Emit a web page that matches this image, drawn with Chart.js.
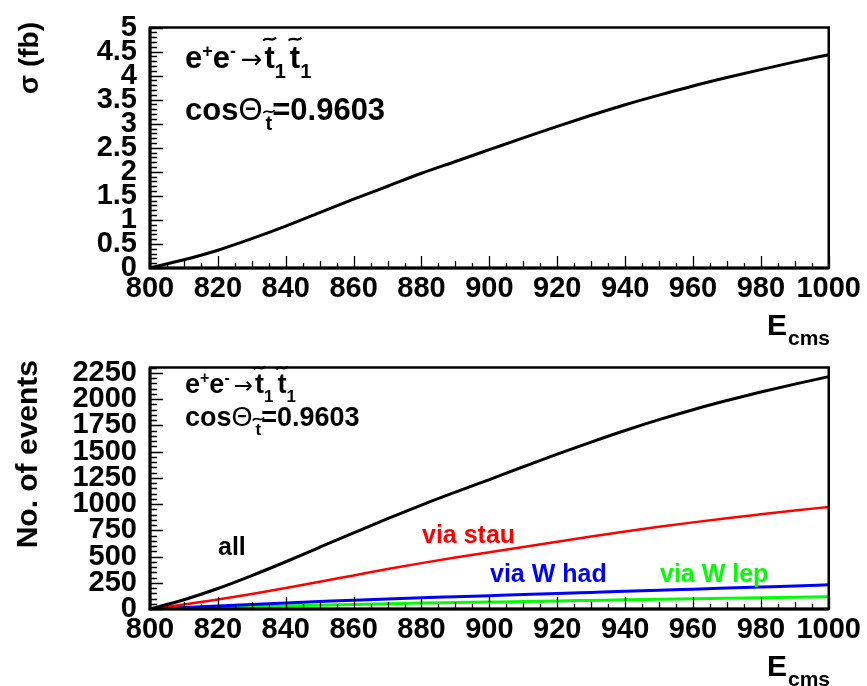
<!DOCTYPE html>
<html>
<head>
<meta charset="utf-8">
<script src="https://cdn.jsdelivr.net/npm/chart.js@4.4.1/dist/chart.umd.min.js"></script>
<style>
  body { margin: 0; background: #fff; }
  #wrap { position: relative; width: 867px; height: 686px; }
  canvas { position: absolute; left: 0; }
</style>
</head>
<body>
<div id="wrap">
  <canvas id="xsec" width="867" height="350" style="top:0"></canvas>
  <canvas id="nevt" width="867" height="346" style="top:340px"></canvas>
</div>
<script>
// centre-of-mass energy (GeV)
var energy = [800, 810, 820, 830, 840, 850, 860, 870, 880, 890, 900,
              910, 920, 930, 940, 950, 960, 970, 980, 990, 1000];
// cross section (fb)
var sigmaFb = [0, 0.17, 0.37, 0.61, 0.87, 1.15, 1.43, 1.70, 1.97, 2.215, 2.46,
               2.705, 2.945, 3.175, 3.395, 3.595, 3.785, 3.96, 4.125, 4.285, 4.435];
// number of events
var evAll  = [0, 88, 195, 318, 450, 588, 725, 860, 990, 1113, 1233,
              1355, 1475, 1590, 1700, 1803, 1898, 1985, 2066, 2142, 2213];
var evStau = [0, 42, 90, 142, 199, 260, 320, 380, 437, 490, 540,
              590, 640, 690, 738, 783, 825, 865, 902, 938, 972];
var evWhad = [0, 14, 29, 44, 58, 71, 84, 96, 107, 117, 127,
              137, 148, 158, 168, 179, 189, 199, 209, 219, 230];
var evWlep = [0, 7, 15, 22, 29, 36, 43, 50, 56, 61, 66,
              71, 77, 82, 87, 92, 97, 102, 107, 112, 117];

var xTicks = [800, 820, 840, 860, 880, 900, 920, 940, 960, 980, 1000];
var sigmaTicks = [0, 0.5, 1, 1.5, 2, 2.5, 3, 3.5, 4, 4.5, 5];
var evTicks = [0, 250, 500, 750, 1000, 1250, 1500, 1750, 2000, 2250];

var FONT = '"Liberation Sans", Arial, Helvetica, sans-serif';

function pts(ys) {
  return energy.map(function (e, i) { return { x: e, y: ys[i] }; });
}

function drawRich(ctx, x, y, parts, color) {
  ctx.save();
  ctx.fillStyle = color;
  ctx.strokeStyle = color;
  ctx.textAlign = 'left';
  ctx.textBaseline = 'alphabetic';
  var cx = x;
  parts.forEach(function (p) {
    ctx.font = (p.weight || 'bold') + ' ' + p.size + 'px ' + (p.family || FONT);
    var by = y + (p.dy || 0);
    cx += p.gap || 0;
    ctx.fillText(p.t, cx, by);
    var w = ctx.measureText(p.t).width;
    if (p.tilde) {
      var tw = Math.max(w, 9) * 1.25, tx = cx + w / 2 - tw / 2, ty = by - p.size * 0.93;
      ctx.lineWidth = p.size > 22 ? 2.2 : 1.7;
      ctx.beginPath();
      ctx.moveTo(tx, ty + 1.5);
      ctx.bezierCurveTo(tx + tw * 0.35, ty - 4, tx + tw * 0.65, ty + 4, tx + tw, ty - 1.5);
      ctx.stroke();
    }
    cx += w;
  });
  ctx.restore();
}

function procParts(s) {
  var sup = Math.round(s * 0.58), sub = Math.round(s * 0.63);
  return [
    { t: 'e', size: s },
    { t: '+', size: sup, dy: -s * 0.37 },
    { t: 'e', size: s },
    { t: '-', size: sup, dy: -s * 0.37 },
    { t: '\u2192', size: Math.round(s * 0.85), weight: 'normal', family: '"DejaVu Sans"', gap: s * 0.15 },
    { t: 't', size: s, tilde: true, gap: 2 },
    { t: '1', size: sub, dy: s * 0.33 },
    { t: 't', size: s, tilde: true, gap: 4 },
    { t: '1', size: sub, dy: s * 0.33 }
  ];
}

function cosParts(s) {
  var sub = Math.round(s * 0.63);
  return [
    { t: 'cos', size: s },
    { t: '\u0398', size: s, weight: 'normal' },
    { t: 't', size: sub, dy: s * 0.33, tilde: true, gap: 3 },
    { t: '=0.9603', size: s }
  ];
}

var rootStyle = {
  id: 'rootStyle',
  afterDatasetsDraw: function (chart, args, o) {
    var ctx = chart.ctx, a = chart.chartArea, xs = chart.scales.x, ys = chart.scales.y;
    ctx.save();
    ctx.strokeStyle = '#000';
    ctx.lineWidth = 1.3;
    ctx.beginPath();
    var nx = Math.round((xs.max - xs.min) / o.xMinor);
    for (var i = 0; i <= nx; i++) {
      var px = Math.round(xs.getPixelForValue(xs.min + i * o.xMinor)) + 0.5;
      var len = i % 4 === 0 ? 12 : (i % 2 === 0 ? 7 : 5);
      ctx.moveTo(px, a.bottom);
      ctx.lineTo(px, a.bottom - len);
    }
    var ny = Math.round((ys.max - ys.min) / o.yMinor);
    for (var k = 0; k <= ny; k++) {
      var py = Math.round(ys.getPixelForValue(ys.min + k * o.yMinor)) + 0.5;
      var l2 = k % o.yPer === 0 ? 13 : 7;
      ctx.moveTo(a.left, py);
      ctx.lineTo(a.left + l2, py);
    }
    ctx.stroke();
    ctx.lineWidth = 2.5;
    ctx.strokeRect(a.left, a.top, a.right - a.left, a.bottom - a.top);
    ctx.lineWidth = 3;
    ctx.beginPath();
    ctx.moveTo(a.left, a.top);
    ctx.lineTo(a.left, a.bottom);
    ctx.lineTo(a.right, a.bottom);
    ctx.stroke();

    // y title
    ctx.save();
    ctx.translate(o.yTitle.x, o.yTitle.y);
    ctx.rotate(-Math.PI / 2);
    ctx.textAlign = 'right';
    ctx.textBaseline = 'alphabetic';
    ctx.fillStyle = '#000';
    ctx.font = 'bold ' + o.yTitle.size + 'px ' + FONT;
    ctx.fillText(o.yTitle.text, 0, 0);
    ctx.restore();

    // x title
    drawRich(ctx, 767, a.bottom + 67, [{ t: 'E', size: 30 }, { t: 'cms', size: 21, dy: 10, gap: 1 }], '#000');

    o.texts.forEach(function (t) { drawRich(ctx, t.x, t.y, t.parts, t.color || '#000'); });
    ctx.restore();
  }
};

function scales(yMax, yTickList, xH) {
  var tickFont = { family: FONT, size: 29, weight: 'bold', lineHeight: 1 };
  return {
    x: {
      type: 'linear', min: 800, max: 1000,
      afterBuildTicks: function (s) { s.ticks = xTicks.map(function (v) { return { value: v }; }); },
      afterFit: function (s) { s.height = xH; },
      grid: { display: false, drawTicks: false },
      border: { display: false },
      ticks: { autoSkip: false, maxRotation: 0, minRotation: 0, padding: 6, color: '#000', font: tickFont,
               callback: function (v) { return String(v); } }
    },
    y: {
      type: 'linear', min: 0, max: yMax,
      afterBuildTicks: function (s) { s.ticks = yTickList.map(function (v) { return { value: v }; }); },
      afterFit: function (s) { s.width = 150; },
      grid: { display: false, drawTicks: false },
      border: { display: false },
      ticks: { autoSkip: false, padding: 13, color: '#000', font: tickFont,
               callback: function (v) { return String(v); } }
    }
  };
}

function line(data, color, w) {
  return { data: pts(data), borderColor: color, borderWidth: w, pointRadius: 0,
           cubicInterpolationMode: 'monotone', fill: false };
}

new Chart(document.getElementById('xsec'), {
  type: 'line',
  data: { datasets: [line(sigmaFb, '#000000', 3)] },
  options: {
    responsive: false, animation: false,
    layout: { padding: { left: 0, right: 37, top: 19, bottom: 0 } },
    scales: scales(5, sigmaTicks, 82),
    plugins: {
      legend: { display: false }, tooltip: { enabled: false },
      rootStyle: {
        xMinor: 5, yMinor: 0.1, yPer: 5,
        yTitle: { text: '\u03c3 (fb)', x: 38, y: 22, size: 28 },
        texts: [
          { x: 185, y: 68, parts: procParts(31) },
          { x: 185, y: 120, parts: cosParts(31) }
        ]
      }
    }
  },
  plugins: [rootStyle]
});

new Chart(document.getElementById('nevt'), {
  type: 'line',
  data: { datasets: [
    line(evAll, '#000000', 3),
    line(evStau, '#ff0000', 2.5),
    line(evWhad, '#0000ff', 3),
    line(evWlep, '#00ff00', 3)
  ] },
  options: {
    responsive: false, animation: false,
    layout: { padding: { left: 0, right: 37, top: 19, bottom: 0 } },
    scales: scales(2300, evTicks, 77),
    plugins: {
      legend: { display: false }, tooltip: { enabled: false },
      rootStyle: {
        xMinor: 5, yMinor: 50, yPer: 5,
        yTitle: { text: 'No. of events', x: 37, y: 20, size: 30 },
        texts: [
          { x: 185, y: 53, parts: procParts(27) },
          { x: 185, y: 86, parts: cosParts(27) },
          { x: 218, y: 215, parts: [{ t: 'all', size: 25 }], color: '#000000' },
          { x: 422, y: 203, parts: [{ t: 'via stau', size: 25 }], color: '#ff0000' },
          { x: 490, y: 242, parts: [{ t: 'via W had', size: 25 }], color: '#0000ff' },
          { x: 660, y: 242, parts: [{ t: 'via W lep', size: 25 }], color: '#00ff00' }
        ]
      }
    }
  },
  plugins: [rootStyle]
});
</script>
</body>
</html>
